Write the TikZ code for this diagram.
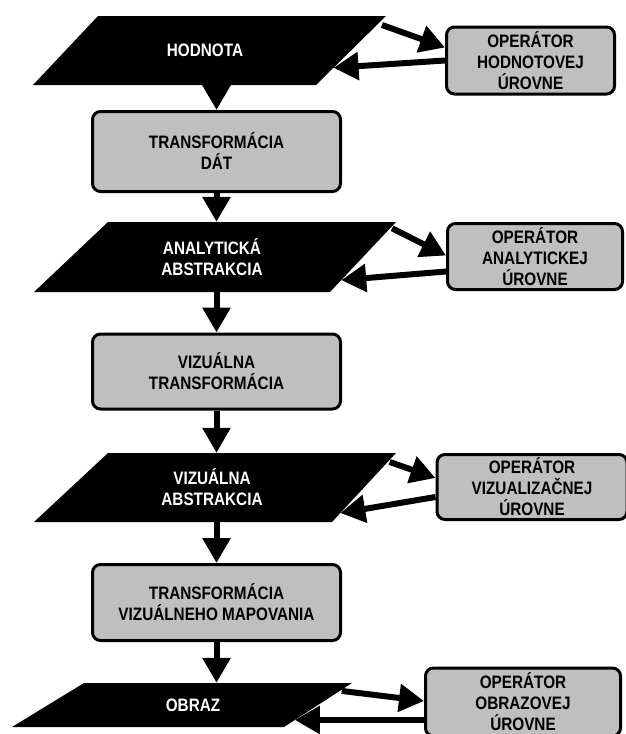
\documentclass[tikz,border=0pt]{standalone}
\usepackage{fontspec}
\setmainfont{Liberation Sans}[FakeStretch=0.85]
\usetikzlibrary{arrows.meta, calc, positioning}

\tikzset{
    data/.style={text=white, inner sep=0pt, align=center,
        font=\fontsize{18}{21}\selectfont\bfseries},
    stage/.style={rectangle, rounded corners=8pt, draw=black, line width=3pt,
        fill=black!25, inner sep=0pt, align=center,
        font=\fontsize{18}{21}\selectfont\bfseries},
    flow/.style={line width=6pt, -{Triangle[length=25pt, width=27pt]}}
}

\begin{document}
\begin{tikzpicture}[x=1pt, y=-1pt]
    \useasboundingbox (0,0) rectangle (626,734);

    % data levels
    \fill (98,16) -- (386,16) coordinate (hod-tr) -- (316,85) coordinate (hod-br) -- (33,85) -- cycle;
    \node[data, minimum height=69pt] (hodnota) at (205,50.5) {HODNOTA};
    \fill (108,222) -- (396,222) coordinate (ana-tr) -- (330,292) coordinate (ana-br) -- (34,292) -- cycle;
    \node[data, minimum height=70pt] (analyt) at (212,257) {ANALYTICKÁ\\ABSTRAKCIA};
    \fill (108,453) -- (396,453) coordinate (vab-tr) -- (332,522) coordinate (vab-br) -- (34,522) -- cycle;
    \node[data, minimum height=69pt] (vabstr) at (212,487.5) {VIZUÁLNA\\ABSTRAKCIA};
    \fill (84,683) -- (352,683) coordinate (obr-tr) -- (284,727) coordinate (obr-br) -- (12,727) -- cycle;
    \node[data, minimum height=44pt] (obraz) at (193,705) {OBRAZ};

    % transformations
    \node[stage, minimum width=248pt, minimum height=80pt] (tdat) at (216.5,151.5)
        {TRANSFORMÁCIA\\DÁT};
    \node[stage, minimum width=248pt, minimum height=75pt] (vtrans) at (216.5,371.5)
        {VIZUÁLNA\\TRANSFORMÁCIA};
    \node[stage, minimum width=248pt, minimum height=76pt] (tmap) at (216.5,602.5)
        {TRANSFORMÁCIA\\VIZUÁLNEHO MAPOVANIA};

    % operators
    \node[stage, minimum width=168pt, minimum height=67pt] (ophod) at (530.5,60.5)
        {OPERÁTOR\\HODNOTOVEJ\\ÚROVNE};
    \node[stage, minimum width=175pt, minimum height=66pt] (opana) at (535,256.5)
        {OPERÁTOR\\ANALYTICKEJ\\ÚROVNE};
    \node[stage, minimum width=190pt, minimum height=65pt] (opviz) at (532,487)
        {OPERÁTOR\\VIZUALIZAČNEJ\\ÚROVNE};
    \node[stage, minimum width=195pt, minimum height=68pt] (opobr) at (523,702)
        {OPERÁTOR\\OBRAZOVEJ\\ÚROVNE};

    \draw[flow] (tdat.north |- hodnota.south) -- (tdat.north);
    \draw[flow] (tdat.south) -- (tdat.south |- analyt.north);
    \draw[flow] (vtrans.north |- analyt.south) -- (vtrans.north);
    \draw[flow] (vtrans.south) -- (vtrans.south |- vabstr.north);
    \draw[flow] (tmap.north |- vabstr.south) -- (tmap.north);
    \draw[flow] (tmap.south) -- (tmap.south |- obraz.north);

    \draw[flow] ([xshift=5pt]$(hod-br)!0.87!(hod-tr)$) -- ([yshift=13pt]ophod.west);
    \draw[flow] (ophod.west) -- ($(hod-br)!0.25!(hod-tr)$);
    \draw[flow] ([xshift=2pt]$(ana-br)!0.91!(ana-tr)$) -- ([yshift=1pt]opana.west);
    \draw[flow] ([yshift=-15pt]opana.west) -- ($(ana-br)!0.17!(ana-tr)$);
    \draw[flow] ([xshift=2pt]$(vab-br)!0.87!(vab-tr)$) -- ([yshift=9pt]opviz.west);
    \draw[flow] ([yshift=-10pt]opviz.west) -- ($(vab-br)!0.13!(vab-tr)$);
    \draw[flow] ([xshift=2pt]$(obr-br)!0.82!(obr-tr)$) -- ([yshift=1pt]opobr.west);
    \coordinate (obr-in) at ($(obr-br)!0.16!(obr-tr)$);
    \draw[flow] (opobr.west |- obr-in) -- (obr-in);
\end{tikzpicture}
\end{document}
